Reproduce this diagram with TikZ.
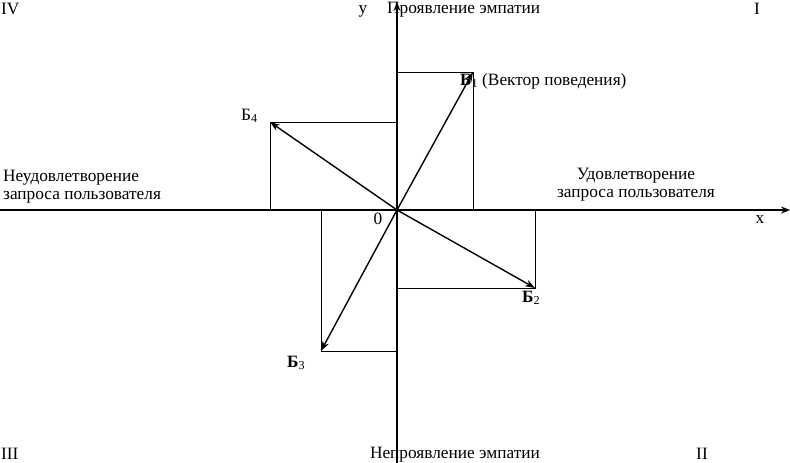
\documentclass[tikz,border=0pt]{standalone}
\usepackage{fontspec}
\setmainfont{Liberation Serif}
\usetikzlibrary{arrows.meta}
\begin{document}
\begin{tikzpicture}[x=1pt,y=-1pt,
  axis/.style={line width=1.9pt,-{Stealth[length=9pt,width=7pt]}},
  vec/.style={line width=1.4pt,-{Stealth[length=10pt,width=7pt]}},
  proj/.style={line width=1pt},
  lbl/.style={font=\fontsize{17.3}{17.5}\selectfont,inner sep=0pt},
  blbl/.style={font=\fontsize{17.3}{17.5}\selectfont\bfseries,inner sep=0pt}]
\useasboundingbox (0,0) rectangle (790,463);
% key points
\coordinate (O) at (397,210);
\coordinate (xl) at (0,210);
\coordinate (xr) at (790,210);
\coordinate (yb) at (397,463);
\coordinate (yt) at (397,2);
\coordinate (B1) at (473,72);
\coordinate (B1y) at (397,72);
\coordinate (B1x) at (473,210);
\coordinate (B2) at (535,288);
\coordinate (B2y) at (397,288);
\coordinate (B2x) at (535,210);
\coordinate (B3) at (321,351);
\coordinate (B3y) at (397,351);
\coordinate (B3x) at (321,210);
\coordinate (B4) at (270,122);
\coordinate (B4y) at (397,122);
\coordinate (B4x) at (270,210);
% projections
\draw[proj] (B1y) -- (B1) -- (B1x);
\draw[proj] (B2y) -- (B2) -- (B2x);
\draw[proj] (B3y) -- (B3) -- (B3x);
\draw[proj] (B4y) -- (B4) -- (B4x);
% axes
\draw[axis] (xl) -- (xr);
\draw[axis] (yb) -- (yt);
% vectors
\draw[vec] (O) -- (B1);
\draw[vec] (O) -- (B2);
\draw[vec] (O) -- (B3);
\draw[vec] (O) -- (B4);
% labels
\node[lbl,anchor=base west] (q4) at (1,14) {IV};
\node[lbl,anchor=base] (q1) at (757,14) {I};
\node[lbl,anchor=base west] (q3) at (1,459) {III};
\node[lbl,anchor=base] (q2) at (702,459) {II};
\node[lbl,anchor=base] (ylab) at (363,13) {у};
\node[lbl,anchor=base west] (top) at (387,13) {Проявление эмпатии};
\node[lbl,anchor=base] (bot) at (455,458) {Непроявление эмпатии};
\node[lbl,anchor=base] (xlab) at (760,223) {х};
\node[lbl,anchor=base] (zero) at (378,224) {0};
\node[lbl,anchor=base west,align=left] (left) at (3,199) {Неудовлетворение\\запроса пользователя};
\node[lbl,anchor=base,align=center] (right) at (636,197) {Удовлетворение\\запроса пользователя};
\node[blbl,anchor=base west] (b1) at (460,85) {Б\textsubscript{\mdseries 1}};
\node[lbl,anchor=base west] (vb) at (482,85) {(Вектор поведения)};
\node[lbl,anchor=base west] (b4) at (241,120) {Б\textsubscript{4}};
\node[blbl,anchor=base west] (b2) at (522,302) {Б\textsubscript{\mdseries 2}};
\node[blbl,anchor=base west] (b3) at (287,367) {Б\textsubscript{\mdseries 3}};
\end{tikzpicture}
\end{document}
